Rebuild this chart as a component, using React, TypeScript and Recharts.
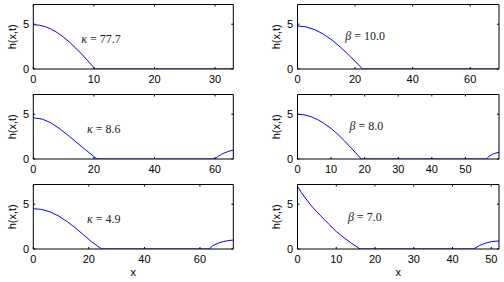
import React from 'react';
import { LineChart, Line, XAxis, YAxis, ReferenceDot } from 'recharts';

// ---- data ----
const p1X = [0, 1, 2, 3, 4, 5, 6, 7, 8, 9, 10.2, 33];
const p1H = [4.95, 4.89, 4.72, 4.43, 4.04, 3.55, 2.98, 2.34, 1.65, 0.91, 0, 0];

const p2X = [0, 3, 6, 9, 12, 15, 18, 20, 22.6, 70];
const p2H = [4.8, 4.7, 4.39, 3.89, 3.23, 2.41, 1.5, 0.86, 0, 0];

const p3X = [0, 3, 6, 9, 12, 15, 18, 21, 60, 61, 62, 63, 64, 65, 66];
const p3H = [4.6, 4.45, 4.0, 3.3, 2.5, 1.65, 0.82, 0, 0, 0.3, 0.5, 0.67, 0.8, 0.91, 0.98];

const p4X = [0, 2, 4, 6, 8, 10, 12, 14, 16, 18, 19, 56.3, 57, 58, 59, 60];
const p4H = [5.0, 4.93, 4.73, 4.4, 3.95, 3.4, 2.76, 2.02, 1.22, 0.41, 0, 0, 0.3, 0.52, 0.66, 0.75];

const p5X = [0, 3, 6, 9, 12, 15, 18, 21, 24.6, 63.3, 64.5, 66, 68, 70, 72];
const p5H = [4.5, 4.42, 4.15, 3.7, 3.1, 2.4, 1.6, 0.8, 0, 0, 0.35, 0.58, 0.8, 0.93, 1.0];

const p6X = [0, 1, 2, 3, 4, 5, 6, 8, 10, 12, 14, 16.2, 45.4, 47, 48.5, 50, 52];
const p6H = [7.0, 6.3, 5.7, 5.15, 4.6, 4.15, 3.7, 2.8, 1.95, 1.25, 0.62, 0, 0, 0.4, 0.65, 0.82, 0.9];

const xMaxes = [33, 70, 66, 60, 72, 52];
const xTicksList = [
  [0, 10, 20, 30],
  [0, 20, 40, 60],
  [0, 20, 40, 60],
  [0, 10, 20, 30, 40, 50],
  [0, 20, 40, 60],
  [0, 10, 20, 30, 40, 50],
];
const yTicks = [0, 5];
const yMax = 7.2;

const symbols = ['κ', 'β', 'κ', 'β', 'κ', 'β'];
const paramValues = ['77.7', '10.0', '8.6', '8.0', '4.9', '7.0'];
const labelX = [7.9, 16.6, 17.7, 15.5, 19.3, 13];
const labelY = [3.3, 3.7, 3.3, 3.65, 3.4, 3.55];

const seriesX = [p1X, p2X, p3X, p4X, p5X, p6X];
const seriesH = [p1H, p2H, p3H, p4H, p5H, p6H];

// ---- layout ----
const colLeft = [0, 252];
const marginLeft = [8.3, 20.5];
const marginRight = [17.7, 4];
const rowTop = [0, 90, 180];
const chartH = [90, 90, 102];
const xAxisH = [20, 20, 32];
const Y_AXIS_W = 25;

const sansFont = '"Liberation Sans", Arial, Helvetica, sans-serif';
const serifFont = '"Liberation Serif", "DejaVu Serif", serif';

function Panel({ idx }: { idx: number }) {
  const col = idx % 2;
  const row = Math.floor(idx / 2);
  const data = seriesX[idx].map((x, i) => ({ x, h: seriesH[idx][i] }));
  const xMax = xMaxes[idx];
  const ticks = xTicksList[idx];
  const isBottom = row === 2;

  const yLabel = (props: any) => {
    const vb = props.viewBox || {};
    const cx = vb.x + vb.width - 21.6;
    const cy = vb.y + vb.height / 2;
    return (
      <text
        x={cx}
        y={cy}
        transform={`rotate(-90, ${cx}, ${cy})`}
        textAnchor="middle"
        dominantBaseline="central"
        fill="#000"
        style={{ fontFamily: sansFont, fontSize: 11 }}
      >
        h(x,t)
      </text>
    );
  };

  const xLabel = (props: any) => {
    const vb = props.viewBox || {};
    const cx = vb.x + vb.width / 2;
    const y = vb.y + vb.height - 5;
    return (
      <text x={cx} y={y} textAnchor="middle" fill="#000" style={{ fontFamily: sansFont, fontSize: 11 }}>
        x
      </text>
    );
  };

  const annot = (props: any) => {
    const vb = props.viewBox || {};
    return (
      <text
        x={vb.x}
        y={vb.y}
        dominantBaseline="central"
        fill="#222"
        style={{ fontFamily: serifFont, fontSize: 12 }}
      >
        <tspan fontStyle="italic">{symbols[idx]}</tspan>
        <tspan>{' = ' + paramValues[idx]}</tspan>
      </text>
    );
  };

  return (
    <div style={{ position: 'absolute', left: colLeft[col], top: rowTop[row] }}>
      <LineChart
        width={252}
        height={chartH[row]}
        data={data}
        margin={{
          top: 3.5,
          left: marginLeft[col],
          right: marginRight[col],
          bottom: chartH[row] - 4.5 - 64.5 - xAxisH[row],
        }}
        style={{ fontFamily: sansFont }}
      >
        <XAxis
          dataKey="x"
          type="number"
          domain={[0, xMax]}
          ticks={ticks}
          allowDataOverflow
          height={xAxisH[row]}
          stroke="#000"
          tickSize={-2}
          tickMargin={8.5}
          tick={{ fill: '#000', fontSize: 11 }}
          interval={0}
          label={isBottom ? xLabel : undefined}
        />
        <XAxis
          xAxisId="t"
          orientation="top"
          dataKey="x"
          type="number"
          domain={[0, xMax]}
          ticks={ticks}
          allowDataOverflow
          height={1}
          stroke="#000"
          tickSize={-2}
          tickFormatter={() => ''}
          interval={0}
        />
        <YAxis
          type="number"
          domain={[0, yMax]}
          ticks={yTicks}
          allowDataOverflow
          width={Y_AXIS_W}
          stroke="#000"
          tickSize={-2}
          tickMargin={6.3}
          tick={{ fill: '#000', fontSize: 11 }}
          interval={0}
          label={yLabel}
        />
        <YAxis
          yAxisId="r"
          orientation="right"
          type="number"
          domain={[0, yMax]}
          ticks={yTicks}
          allowDataOverflow
          width={1}
          stroke="#000"
          tickSize={-2}
          tickFormatter={() => ''}
          interval={0}
        />
        <ReferenceDot
          x={labelX[idx]}
          y={labelY[idx]}
          r={0}
          fill="none"
          stroke="none"
          label={annot}
        />
        <Line
          dataKey="h"
          type="linear"
          stroke="#0000ff"
          strokeWidth={1}
          dot={false}
          activeDot={false}
          isAnimationActive={false}
        />
      </LineChart>
    </div>
  );
}

export default function App() {
  return (
    <div
      style={{
        position: 'absolute',
        left: 0,
        top: 0,
        width: 504,
        height: 282,
        background: '#fff',
        overflow: 'hidden',
      }}
    >
      {[0, 1, 2, 3, 4, 5].map((i) => (
        <Panel key={i} idx={i} />
      ))}
    </div>
  );
}
